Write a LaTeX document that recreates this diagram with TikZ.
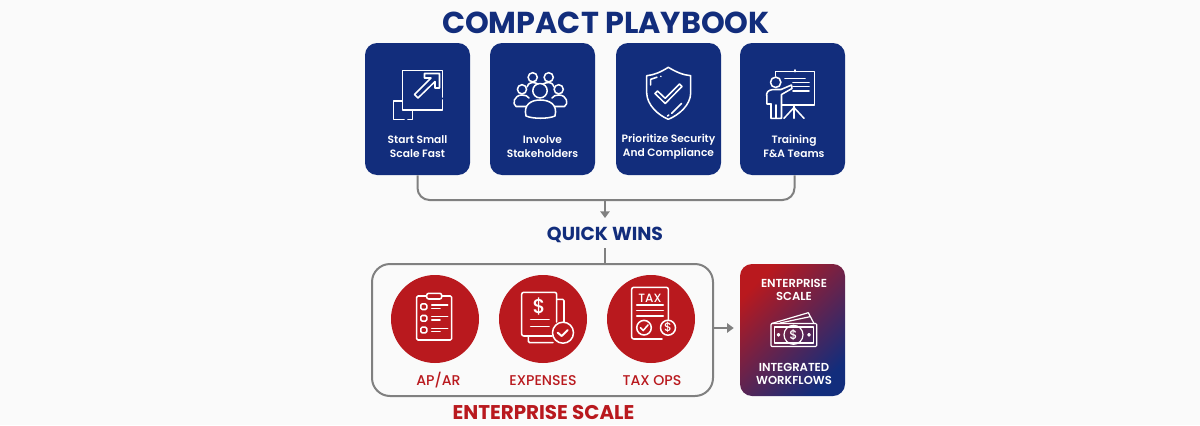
\documentclass[tikz,border=0pt]{standalone}
\usepackage{fontspec}
\setmainfont{Poppins}
\newfontfamily\popmed{Poppins Medium}
\newfontfamily\popsemi{Poppins SemiBold}
\usetikzlibrary{arrows.meta,calc}
\definecolor{navy}{HTML}{122D7C}
\definecolor{brick}{HTML}{B9191E}
\definecolor{wire}{HTML}{808080}
\definecolor{paper}{HTML}{FAFAFA}
\newcommand{\fs}[2]{\fontsize{#1}{#2}\selectfont}
\tikzset{
  card/.style={minimum width=78.75pt,minimum height=99pt,inner sep=0pt,fill=navy,rounded corners=9pt},
  cardtext/.style={text=white,font=\popsemi\fs{8pt}{10.2pt},align=center,inner sep=0pt},
  disc/.style={circle,fill=brick,minimum size=66pt,inner sep=0pt},
  disclabel/.style={text=brick,font=\popmed\fs{10.6pt}{12pt},inner sep=0pt},
  headline/.style={font=\bfseries,inner sep=0pt},
  sidetext/.style={text=white,font=\popsemi\fs{8.7pt}{9.8pt},align=center,inner sep=0pt},
  wireline/.style={draw=wire,line width=1.5pt},
  wirearrow/.style={wireline,-{Triangle[length=5pt,width=7pt]}},
  icon/.style={draw=white,line width=1.15pt,line cap=round,line join=round},
  thinicon/.style={icon,line width=.9pt},
}
\begin{document}
\begin{tikzpicture}[x=.75pt,y=-.75pt]
\fill[paper] (0,0) rectangle (1200,425);
\useasboundingbox (0,0) rectangle (1200,425);

\node[text=navy,font=\bfseries\fs{22.7pt}{26pt},inner sep=0pt] (title) at (606,23) {COMPACT PLAYBOOK};

\node[card] (b1) at (417.5,109) {};
\node[card] (b2) at (542.5,109) {};
\node[card] (b3) at (668.5,109) {};
\node[card] (b4) at (792.5,109) {};
\node[cardtext] (t1) at (417.5,146.5) {Start Small\\Scale Fast};
\node[cardtext] (t2) at (542.5,146.5) {Involve\\Stakeholders};
\node[cardtext] (t3) at (668.5,146.5) {Prioritize Security\\And Compliance};
\node[cardtext] (t4) at (794,146.5) {Training\\F\&A Teams};

% bus
\coordinate (busmid) at (605,200);
\draw[wireline,rounded corners=9pt] (b1.south) |- (busmid) -| ($(b4.south)+(2,0)$);
\node[headline,text=navy,font=\bfseries\fs{14.1pt}{16pt}] (qw) at (605,235) {QUICK WINS};
\draw[wirearrow] (busmid) -- (605,218);

\node[draw=wire,line width=1.5pt,rounded corners=13.5pt,minimum width=255.75pt,minimum height=99pt,inner sep=0pt] (sc) at (542.5,330) {};
\draw[wireline] (qw.south |- 0,248) -- (qw.south |- sc.north);
\node[headline,text=brick,font=\bfseries\fs{14.9pt}{17pt}] (es) at (543.5,412.5) {ENTERPRISE SCALE};

\node[disc] (c1) at (435,319) {};
\node[disc] (c2) at (543,319) {};
\node[disc] (c3) at (651,319) {};
\node[disclabel] (l1) at (438.5,380.5) {AP/AR};
\node[disclabel] (l2) at (543,380.5) {EXPENSES};
\node[disclabel] (l3) at (652,380.5) {TAX OPS};

% side card
\node[minimum width=78.75pt,minimum height=99pt,inner sep=0pt,rounded corners=9pt,top color=brick,bottom color=navy,shading angle=45] (rb) at (792.5,330) {};
\node[sidetext] (s1) at (794,289.5) {ENTERPRISE\\SCALE};
\node[sidetext] (s2) at (794,373.5) {INTEGRATED\\WORKFLOWS};
\coordinate (arrfrom) at (sc.east |- 0,328);
\coordinate (arrto) at (rb.west |- 0,328);
\draw[wirearrow,shorten >=4.5pt] (arrfrom) -- (arrto);

% icon 1 : expand
\draw[icon] (442.7,97) -- (442.7,70.3) -- (402.3,70.3) -- (402.3,110) -- (442.7,110) -- (442.7,100);
\draw[icon] (402.3,101) -- (393.3,101) -- (393.3,119.3) -- (404,119.3);
\draw[icon] (408,119.3) -- (412.7,119.3) -- (412.7,110);
\draw[icon] (414.5,94.5) -- (431,78) -- (424.5,78) -- (424.5,73.5) -- (439.5,73.5) -- (439.5,88) -- (435,88) -- (435,81.5) -- (418,98) -- cycle;

% icon 2 : people
\draw[icon] (532.7,77.3) circle (4.6) (548.7,77.3) circle (4.6) (522,89.3) circle (4.6) (558.7,89.3) circle (4.6);
\draw[icon] (540,90.7) circle (7.2);
\draw[icon] (526,116) .. controls (523,104) and (532,100) .. (540,100) .. controls (549,100) and (558,104) .. (555,116) .. controls (548,119) and (533,119) .. (526,116) -- cycle;
\draw[icon] (526,106.5) -- (516,106.5) .. controls (512,104) and (514,95) .. (522,95) .. controls (525,95) and (528,96) .. (529,98);
\draw[icon] (555,106.5) -- (564.5,106.5) .. controls (569,104) and (567,95) .. (558.7,95) .. controls (556,95) and (553,96) .. (552,98);
\draw[icon] (527,87) .. controls (527,85) and (529,83) .. (532.7,82.5) .. controls (535,83) and (537,83) .. (538,84);
\draw[icon] (554,87) .. controls (554,85) and (552,83) .. (548.7,82.5) .. controls (546,83) and (544,83) .. (543,84);

% icon 3 : shield
\draw[icon] (668.3,67.3) .. controls (661,72) and (654,75) .. (646.7,75.7) -- (646.7,93) .. controls (647,105) and (658,115) .. (668.3,119.3) .. controls (679,115) and (690.5,105) .. (690.7,93) -- (690.7,75.7) .. controls (683,75) and (676,72) .. (668.3,67.3) -- cycle;
\draw[icon] (655,93.5) -- (665.2,103.5) -- (682,86.5) -- (679.5,84) -- (665.2,98.3) -- (657.5,91) -- cycle;
\draw[icon] (650.7,85) -- (650.7,79.3) -- (657,77.2);
\draw[icon] (660.8,76.5) -- (661,76.4);
\draw[icon] (671.7,113.3) -- (681.7,103.3);
\draw[icon] (667.5,116) -- (668.8,115);

% icon 4 : trainer
\draw[icon] (775.7,76) -- (775.7,71.7) -- (814.3,71.7) -- (814.3,105) -- (782,105);
\draw[icon] (795,71.7) -- (795,70);
\draw[icon] (785,78.3) -- (805,78.3) (793,82.7) -- (809,82.7) (793,86.7) -- (809,86.7) (793,91) -- (809,91);
\draw[icon] (794,105) -- (794,118.3) (784,118.3) -- (794,107.5) -- (804,118.3);
\draw[icon] (775.7,82.3) circle (5.2);
\draw[icon] (781,89.5) -- (791.5,85) -- (792,88.5) -- (781.5,94.5) -- (781.5,118.3) -- (771,118.3) -- (771,104);
\draw[icon] (771,104) -- (767,104) -- (766.7,94) .. controls (767,90.5) and (771,89.5) .. (775,89.5) -- (781,89.5);
\draw[icon] (776,105) -- (776,118.3);

% icon 5 : clipboard
\draw[icon,rounded corners=1pt] (426.7,296) -- (416.7,296) -- (416.7,340) -- (451.7,340) -- (451.7,296) -- (441.7,296);
\draw[icon,rounded corners=1.5pt] (426.7,293.3) rectangle (441.7,299);
\foreach \yy in {306.7,318.3,330}{
  \draw[icon,rounded corners=1pt] (420.8,\yy-2.8) rectangle (426.8,\yy+2.8);
  \draw[icon] (431.7,\yy-1.7) -- (447.7,\yy-1.7) (431.7,\yy+1.7) -- (440,\yy+1.7);
}

% icon 6 : expenses
\draw[icon,rounded corners=1.5pt] (552,336) -- (521.7,336) -- (521.7,292.3) -- (556.7,292.3) -- (556.7,322);
\draw[icon,rounded corners=1pt] (556.7,299.3) -- (564,299.3) -- (564,322);
\draw[icon,rounded corners=1pt] (528.3,336) -- (528.3,342.7) -- (553,342.7);
\draw[icon] (563,332.7) circle (10.5);
\draw[icon,line width=1.5pt] (557.7,332.7) -- (561.7,336) -- (567.7,330);
\node[text=white,font=\popmed\fs{15pt}{16pt},inner sep=0pt] (dollar) at (539,306.5) {\$};
\draw[icon] (530.7,319.3) -- (549,319.3) (530.7,326.7) -- (549,326.7);

% icon 7 : tax
\draw[icon,rounded corners=1.5pt] (668.3,319.5) -- (668.3,287.3) -- (631.7,287.3) -- (631.7,339) -- (662,339);
\node[text=white,font=\popmed\fs{9pt}{10pt},inner sep=0pt] (tax) at (650,298) {TAX};
\draw[icon] (636.7,305) -- (663.3,305) (636.7,310.7) -- (663.3,310.7) (636.7,316) -- (663.3,316);
\draw[icon] (644,327.7) circle (7.3);
\draw[icon] (640.5,327.7) -- (643.2,330.5) -- (648,325);
\draw[icon] (668,327.7) circle (7.5);
\node[text=white,font=\popmed\fs{9pt}{10pt},inner sep=0pt] (taxd) at (668,327.7) {\$};

% icon 8 : money
\draw[thinicon,rounded corners=.8pt] (771,323.5) rectangle (816.7,346.5);
\draw[thinicon] (774.5,327) rectangle (813.2,343);
\draw[thinicon] (771.7,323.5) -- (808.3,312.7) -- (814,323.5);
\draw[thinicon] (780,323) -- (810,316.7) ;
\draw[thinicon] (793.5,334.8) circle (9.5);
\node[text=white,font=\popmed\fs{9.5pt}{10pt},inner sep=0pt] (moneyd) at (793.5,334.8) {\$};
\draw[thinicon] (778.5,334.8) circle (1.3) (809,334.8) circle (1.3);
\end{tikzpicture}
\end{document}
